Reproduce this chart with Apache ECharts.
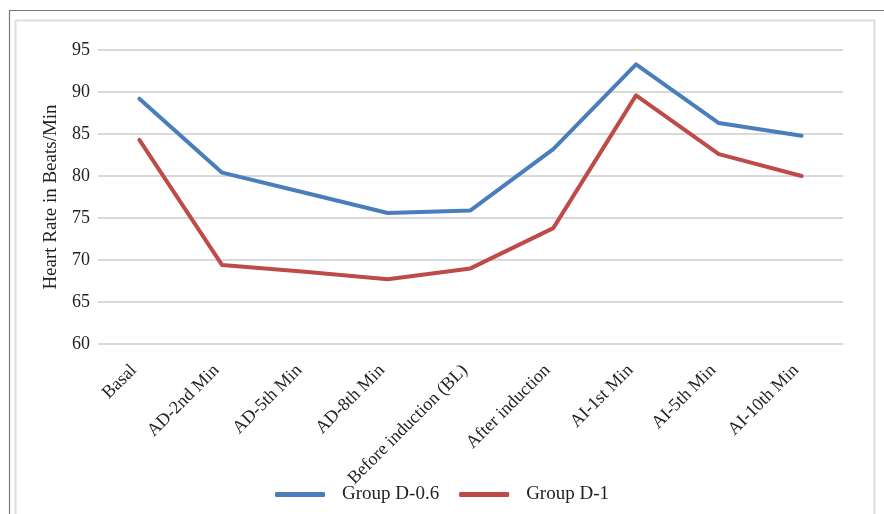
<!DOCTYPE html>
<html>
<head>
<meta charset="utf-8">
<title>Heart Rate in Beats/Min</title>
<script src="https://cdn.jsdelivr.net/npm/echarts@6/dist/echarts.min.js"></script>
<style>
  html, body { margin: 0; padding: 0; background: #ffffff; }
  #chart { width: 884px; height: 514px; }
</style>
</head>
<body>
<div id="chart"></div>
<script>
// Time points of measurement
const categories = [
  'Basal', 'AD-2nd Min', 'AD-5th Min', 'AD-8th Min', 'Before induction (BL)',
  'After induction', 'AI-1st Min', 'AI-5th Min', 'AI-10th Min'
];
// Mean heart rate per group
const groupD06 = [89.2, 80.4, 78.0, 75.6, 75.9, 83.2, 93.3, 86.3, 84.8];
const groupD1  = [84.3, 69.4, 68.6, 67.7, 69.0, 73.8, 89.6, 82.6, 80.0];
const seriesNames = ['Group D-0.6', 'Group D-1'];
const yTicks = { min: 60, max: 95, interval: 5 };

const FONT = '"Liberation Serif", "DejaVu Serif", serif';
const chart = echarts.init(document.getElementById('chart'), null, { renderer: 'canvas' });

chart.setOption({
  backgroundColor: '#ffffff',
  animation: false,
  textStyle: { fontFamily: FONT },
  graphic: [
    // outer frame
    { type: 'rect', z: -10, silent: true,
      shape: { x: 9.5, y: 10.5, width: 900, height: 520 },
      style: { fill: 'none', stroke: '#7a7a7a', lineWidth: 1.2 } },
    // inner chart-area frame
    { type: 'rect', z: -10, silent: true,
      shape: { x: 15.5, y: 20.5, width: 859, height: 510 },
      style: { fill: 'none', stroke: '#dedede', lineWidth: 2 } }
  ],
  grid: { left: 98, right: 41, top: 50, bottom: 170, containLabel: false },
  legend: {
    bottom: 5,
    left: 'center',
    itemWidth: 50,
    itemHeight: 5,
    itemGap: 20,
    icon: 'roundRect',
    textStyle: { fontFamily: FONT, fontSize: 19, color: '#222', padding: [0, 0, 0, 12] },
    data: seriesNames
  },
  xAxis: {
    type: 'category',
    data: categories,
    boundaryGap: true,
    axisLine: { show: false },
    axisTick: { show: false },
    axisLabel: {
      rotate: 45,
      interval: 0,
      margin: 18,
      padding: [0, 8, 0, 0],
      fontFamily: FONT,
      fontSize: 18,
      color: '#222'
    }
  },
  yAxis: {
    type: 'value',
    min: yTicks.min,
    max: yTicks.max,
    interval: yTicks.interval,
    name: 'Heart Rate in Beats/Min',
    nameLocation: 'middle',
    nameGap: 37,
    nameTextStyle: { fontFamily: FONT, fontSize: 19, color: '#222' },
    axisLine: { show: false },
    axisTick: { show: false },
    axisLabel: { fontFamily: FONT, fontSize: 18, color: '#222', margin: 8 },
    splitLine: { lineStyle: { color: '#d9d9d9', width: 2 } }
  },
  series: [
    {
      name: seriesNames[0],
      type: 'line',
      data: groupD06,
      smooth: false,
      symbol: 'none',
      color: '#4a7ebb',
      lineStyle: { width: 4, color: '#4a7ebb', join: 'round', cap: 'round' }
    },
    {
      name: seriesNames[1],
      type: 'line',
      data: groupD1,
      smooth: false,
      symbol: 'none',
      color: '#be4b48',
      lineStyle: { width: 4, color: '#be4b48', join: 'round', cap: 'round' }
    }
  ]
});
</script>
</body>
</html>
